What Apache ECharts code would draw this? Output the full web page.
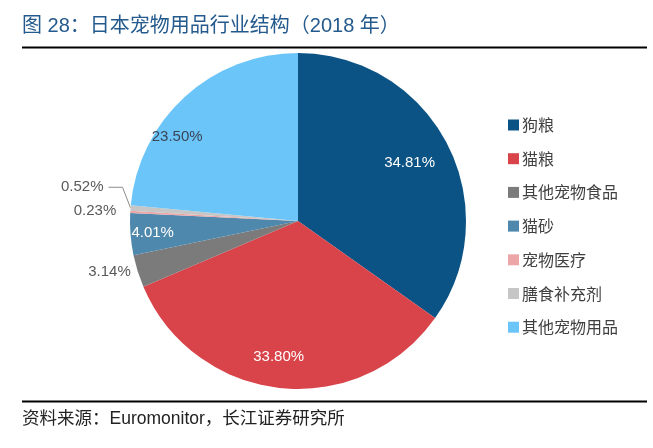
<!DOCTYPE html>
<html><head><meta charset="utf-8">
<script src="https://cdn.jsdelivr.net/npm/echarts@6/dist/echarts.min.js"></script>
<style>html,body{margin:0;padding:0;background:#fff}#c{width:653px;height:448px}</style>
</head><body><div id="c"></div>
<script>
const titleText = '图 28：日本宠物用品行业结构（2018 年）';
const sourceText = '资料来源：Euromonitor，长江证券研究所';
const categories = ['狗粮','猫粮','其他宠物食品','猫砂','宠物医疗','膳食补充剂','其他宠物用品'];
const values = [34.81, 33.80, 3.14, 4.01, 0.23, 0.52, 23.50];
const labelTexts = ['34.81%','33.80%','3.14%','4.01%','0.23%','0.52%','23.50%'];
const colors = ['#0b5384','#d9434a','#7b7b7b','#4f88ad','#eda6a8','#c6c6c6','#6cc5f9'];

const R = 168, CX = 298, CY = 221;
// label placement styles: inside radial fraction and angular shift (degrees)
const insideFrac = {0:0.73, 1:0.80, 3:0.85, 6:0.86};
const insideShift = {0:0, 1:2, 3:0, 6:-13};
const insideColor = {0:'#ffffff',1:'#ffffff',3:'#ffffff',6:'#3a4656'};
const total = values.reduce((a,b)=>a+b,0);
let cum = 0;
const data = values.map((v,i)=>{
  const mid = (cum + v/2)/total*2*Math.PI; cum += v;
  const d = {name: categories[i], value: v, itemStyle:{color: colors[i]}};
  if (insideFrac[i] !== undefined) {
    const a = mid + insideShift[i]*Math.PI/180;
    const r = insideFrac[i]*R;
    const ox = r*Math.sin(a) - (R/2)*Math.sin(mid);
    const oy = -r*Math.cos(a) + (R/2)*Math.cos(mid);
    d.label = {position:'inside', color: insideColor[i], offset:[ox, oy]};
  } else if (i === 2) {
    d.label = {position:'outside', color:'#595959'};
    d.labelLine = {show:false, length:2, length2:0};
  } else if (i === 4) {
    d.label = {position:'outside', color:'#595959'};
    d.labelLine = {show:false, length:9, length2:0};
  } else {
    d.label = {position:'outside', color:'#595959'};
    d.labelLine = {show:true, length:8, length2:14, lineStyle:{color:'#8c8c8c', width:1}};
  }
  return d;
});

const chart = echarts.init(document.getElementById('c'), null, {renderer:'canvas'});
chart.setOption({
  animation:false,
  backgroundColor:'#fff',
  graphic:[
    {type:'text', left:22, top:16, style:{text:titleText, fill:'#245a8d', font:'20px "Liberation Sans","Noto Sans CJK SC"'}},
    {type:'rect', shape:{x:22, y:46.5, width:625, height:2}, style:{fill:'#000'}},
    {type:'rect', shape:{x:22, y:400.5, width:625, height:2}, style:{fill:'#000'}},
    {type:'text', left:22, top:410, style:{text:sourceText, fill:'#222', font:'17.5px "Liberation Sans","Noto Sans CJK SC"'}}
  ],
  legend:{
    orient:'vertical', left:503, top:112, icon:'rect', itemWidth:11, itemHeight:11,
    itemGap:17.7, selectedMode:false,
    textStyle:{color:'#404040', fontSize:16, fontFamily:'"Noto Sans CJK SC"', lineHeight:16, padding:[0,0,0,-2]},
    data: categories
  },
  series:[{
    type:'pie', center:[CX,CY], radius:[0,R], startAngle:90, clockwise:true,
    avoidLabelOverlap:false, silent:true,
    label:{show:true, fontSize:15, fontFamily:'"Liberation Sans"', distanceToLabelLine:5,
      formatter:p=>labelTexts[p.dataIndex]},
    labelLayout: function(p){
      if (p.dataIndex === 5 && p.labelLinePoints) {
        const pts = p.labelLinePoints;
        const dy = -20;
        return {dy: dy, labelLinePoints:[pts[0], [pts[1][0], pts[1][1]+dy], [pts[2][0], pts[2][1]+dy]]};
      }
      return {};
    },
    data: data
  }]
});
</script></body></html>
